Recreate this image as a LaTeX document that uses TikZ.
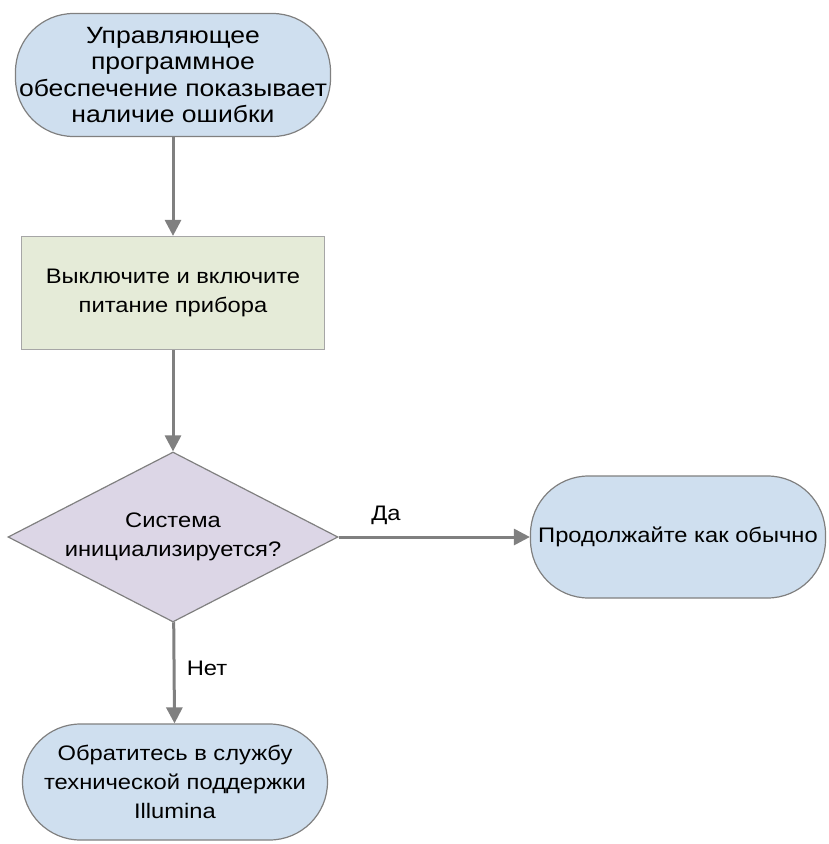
\documentclass[tikz,border=0pt]{standalone}
\usepackage{fontspec}
\setmainfont{Liberation Sans}[FakeStretch=1.13]
\usetikzlibrary{shapes.geometric,arrows.meta}

\definecolor{termfill}{RGB}{207,223,239}
\definecolor{boxfill}{RGB}{229,235,216}
\definecolor{decfill}{RGB}{220,214,230}
\definecolor{edgegray}{RGB}{128,128,128}

\tikzset{
  terminal/.style={draw=edgegray, line width=1.2pt, fill=termfill, rounded corners=58pt,
    align=center, inner sep=0pt},
  stepbox/.style={draw=edgegray!70, line width=1.2pt, fill=boxfill, align=center},
  decision/.style={diamond, draw=edgegray, line width=1.2pt, fill=decfill, aspect=1.94,
    inner sep=0pt, align=center},
  flow/.style={draw=edgegray, line width=3pt, -{Triangle[width=16pt,length=16pt]}},
  lbl/.style={font=\fontsize{21}{29}\selectfont}
}

\begin{document}
\begin{tikzpicture}[x=1pt,y=-1pt,font=\fontsize{21}{29}\selectfont]
\useasboundingbox (0,0) rectangle (828,844);

\node[terminal, minimum width=315pt, minimum height=123pt,
  font=\fontsize{23.5}{26.5}\selectfont] (error) at (173,75)
  {Управляющее\\программное\\обеспечение показывает\\наличие ошибки};

\node[stepbox, minimum width=303pt, minimum height=113pt] (restart) at (173,293)
  {Выключите и включите\\питание прибора};
\draw[flow] (error) -- (restart);

\node[decision, minimum width=330pt, minimum height=170pt] (init) at (173,537)
  {Система\\инициализируется?};
\draw[flow] (restart) -- (init);

\node[terminal, minimum width=295pt, minimum height=122pt] (continue) at (678,537)
  {Продолжайте как обычно};
\draw[flow] (init) -- (continue);
\node[lbl] (yes) at (386,515) {Да};

\node[terminal, minimum width=305pt, minimum height=116pt] (support) at (175,782)
  {Обратитесь в службу\\технической поддержки\\Illumina};
\draw[flow] (init) -- (support);
\node[lbl] (no) at (207,668) {Нет};
\end{tikzpicture}
\end{document}
